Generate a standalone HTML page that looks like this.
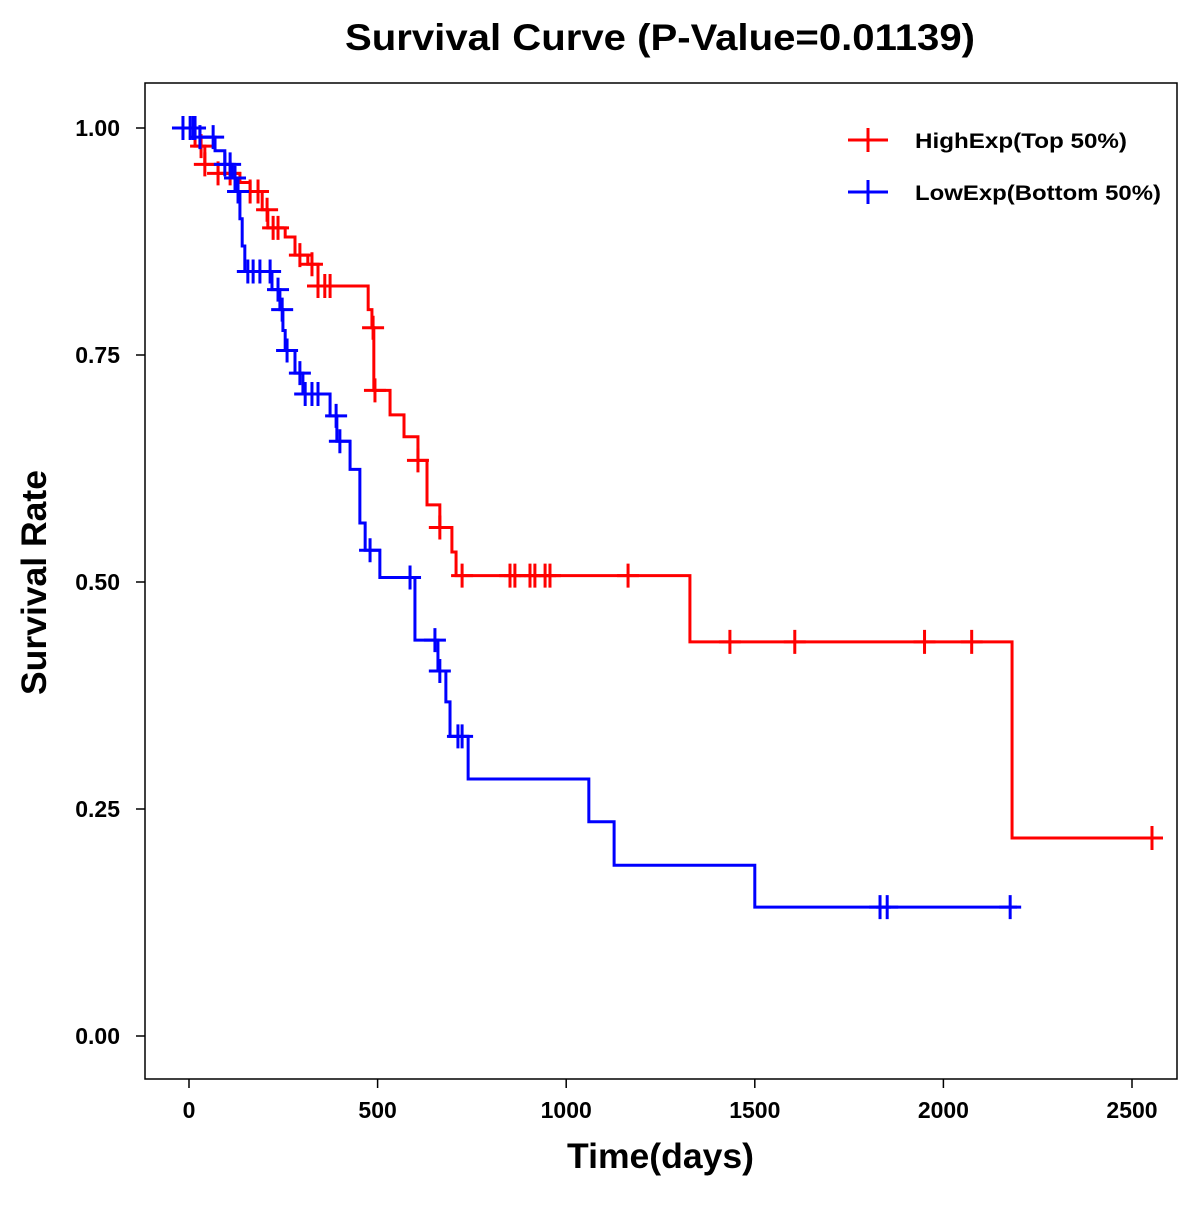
<!DOCTYPE html>
<html><head><meta charset="utf-8"><style>
body{margin:0;background:#fff;}
svg text{font-family:"Liberation Sans",Arial,sans-serif;font-weight:bold;}
</style></head><body>
<svg id="chart" width="1200" height="1200">
<rect x="0" y="0" width="1200" height="1200" fill="#fff"/>
<text x="345" y="50" font-size="37" textLength="630" lengthAdjust="spacingAndGlyphs">Survival Curve (P-Value=0.01139)</text>
<rect x="145" y="83" width="1032" height="996" fill="none" stroke="#000" stroke-width="1.5"/>
<g id="axes"></g>
<g id="series"></g>
<text x="567" y="1168" font-size="35" textLength="187" lengthAdjust="spacingAndGlyphs">Time(days)</text>
<text transform="translate(46,695) rotate(-90)" font-size="35" textLength="225" lengthAdjust="spacingAndGlyphs">Survival Rate</text>
<g>
<line x1="848" y1="140" x2="888" y2="140" stroke="#f00" stroke-width="3"/><line x1="868" y1="128" x2="868" y2="152" stroke="#f00" stroke-width="3"/>
<text x="915" y="148" font-size="21" textLength="212" lengthAdjust="spacingAndGlyphs">HighExp(Top 50%)</text>
<line x1="848" y1="192" x2="888" y2="192" stroke="#00f" stroke-width="3"/><line x1="868" y1="180" x2="868" y2="204" stroke="#00f" stroke-width="3"/>
<text x="915" y="200" font-size="21" textLength="246" lengthAdjust="spacingAndGlyphs">LowExp(Bottom 50%)</text>
</g>
</svg>
<script>
const xTicks=[0,500,1000,1500,2000,2500];
const yTicks=[0,0.25,0.5,0.75,1];
const yTickLabels=["0.00","0.25","0.50","0.75","1.00"];
const highTimes=[0,16,42,77,135,162,194,209,255,281,315,342,475,485,490,533,570,607,631,665,697,708,1328,2182,2577];
const highSurv=[1,0.98,0.96,0.95,0.94,0.93,0.91,0.89,0.88,0.86,0.85,0.826,0.80,0.78,0.711,0.684,0.66,0.634,0.585,0.56,0.533,0.507,0.434,0.218,0.218];
const highCensor=[32,42,77,109,162,183,207,223,236,294,326,342,360,374,488,493,607,665,724,851,864,904,917,944,957,1164,1434,1606,1950,2075,2553];
const lowTimes=[0,29,69,95,114,125,135,141,148,220,241,249,255,281,302,374,392,427,453,467,506,599,660,681,692,740,1060,1127,1500,2195];
const lowSurv=[1,0.99,0.975,0.96,0.945,0.93,0.9,0.87,0.842,0.822,0.80,0.777,0.755,0.73,0.707,0.683,0.655,0.624,0.565,0.535,0.505,0.436,0.402,0.368,0.33,0.283,0.236,0.188,0.142,0.142];
const lowCensor=[-16,3,11,16,29,64,95,109,122,130,156,170,188,215,236,247,260,294,308,326,342,390,400,480,586,652,665,713,724,1832,1851,2177];
const X=d=>189+d*0.3772, Y=v=>1036-v*908;
const ns="http://www.w3.org/2000/svg";
function mk(t,a,p){const e=document.createElementNS(ns,t);for(const k in a)e.setAttribute(k,a[k]);p.appendChild(e);return e;}
const ax=document.getElementById('axes');
xTicks.forEach(t=>{
 const l=mk('line',{x1:X(t),x2:X(t),y1:1079,y2:1088,stroke:'#000','stroke-width':1.5},ax);
 
 
 const tx=mk('text',{x:X(t),y:1118,'text-anchor':'middle','font-size':23},ax);tx.textContent=t;
 
 
});
yTicks.forEach((t,i)=>{
 const l=mk('line',{x1:136,x2:145,y1:Y(t),y2:Y(t),stroke:'#000','stroke-width':1.5},ax);
 
 
 const tx=mk('text',{x:120,y:Y(t)+8,'text-anchor':'end','font-size':23},ax);tx.textContent=yTickLabels[i];
 
 
});
const sg=document.getElementById('series');
function survAt(ts,ss,t){let v=ss[0];for(let i=0;i<ts.length;i++){if(ts[i]<=t)v=ss[i];}return v;}
function draw(ts,ss,cs,col,name){
 let d='M'+X(ts[0])+' '+Y(ss[0]);
 for(let i=1;i<ts.length;i++){d+=' H'+X(ts[i])+' V'+Y(ss[i]);}
 const p=mk('path',{d:d,fill:'none',stroke:col,'stroke-width':3},sg);
 
 
 cs.forEach(c=>{
  const v=survAt(ts,ss,c),x=X(c),y=Y(v);
  const g=mk('path',{d:`M${x-11} ${y} H${x+11} M${x} ${y-12} V${y+12}`,stroke:col,'stroke-width':3},sg);
  
  
 });
}
draw(highTimes,highSurv,highCensor,'#f00','high-exp');
draw(lowTimes,lowSurv,lowCensor,'#00f','low-exp');
</script>
</body></html>
